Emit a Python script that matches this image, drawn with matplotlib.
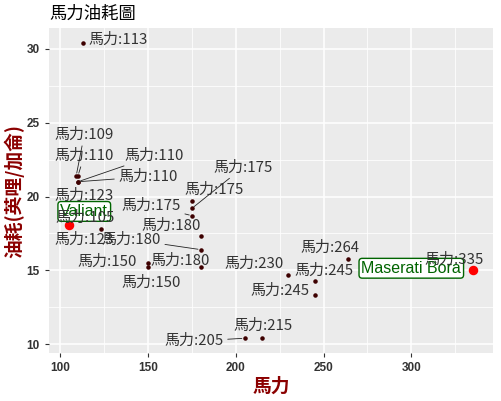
#馬力 vs 油耗 scatter with repelled labels (mtcars, hp > 100)
import numpy as np
import matplotlib.pyplot as plt
from matplotlib.ticker import MultipleLocator

plt.rcParams['font.family'] = ['Noto Sans CJK TC', 'DejaVu Sans']

#data
cars = ['Mazda RX4', 'Mazda RX4 Wag', 'Hornet 4 Drive', 'Hornet Sportabout', 'Valiant',
        'Duster 360', 'Merc 280', 'Merc 280C', 'Merc 450SE', 'Merc 450SL', 'Merc 450SLC',
        'Cadillac Fleetwood', 'Lincoln Continental', 'Chrysler Imperial', 'Dodge Challenger',
        'AMC Javelin', 'Camaro Z28', 'Pontiac Firebird', 'Lotus Europa', 'Ford Pantera L',
        'Ferrari Dino', 'Maserati Bora', 'Volvo 142E']
hp = [110, 110, 110, 175, 105, 245, 123, 123, 180, 180, 180, 205, 215, 230, 150,
      150, 245, 175, 113, 264, 175, 335, 109]
mpg = [21.0, 21.0, 21.4, 18.7, 18.1, 14.3, 19.2, 17.8, 16.4, 17.3, 15.2, 10.4, 10.4, 14.7, 15.5,
       15.2, 13.3, 19.2, 30.4, 15.8, 19.7, 15.0, 21.4]
highlight = ['Valiant', 'Maserati Bora']

#label placement (like ggrepel result) and whether a segment is drawn
lab_x = [153.4, 150.0, 113.6, 151.7, 114.2, 250.0, 113.6, 113.6, 140.3, 163.1, 168.2, 176.1,
         215.3, 210.2, 126.7, 151.7, 225.0, 204.0, 133.0, 253.4, 187.5, 324.4, 113.6]
lab_y = [22.77, 21.35, 22.77, 19.39, 18.58, 15.0, 20.07, 17.09, 17.09, 18.04, 15.68, 10.2,
         11.28, 15.47, 15.61, 14.19, 13.65, 21.96, 30.6, 16.55, 20.47, 15.74, 24.19]
seg = [1, 1, 1, 1, 0, 0, 0, 0, 1, 0, 0, 1, 0, 0, 0, 0, 0, 1, 0, 0, 0, 0, 1]
box_x = [113.6, 300.0]
box_y = [18.99, 15.14]

fig = plt.figure(figsize=(5.01, 4.01), dpi=100)
ax = fig.add_axes([0.0978, 0.1197, 0.886, 0.810])
ax.set_facecolor('#EBEBEB')
for s in ax.spines.values():
    s.set_visible(False)

ax.set_xlim(93.5, 346.5)
ax.set_ylim(9.4, 31.4)
ax.xaxis.set_major_locator(MultipleLocator(50))
ax.xaxis.set_minor_locator(MultipleLocator(25))
ax.yaxis.set_major_locator(MultipleLocator(5))
ax.yaxis.set_minor_locator(MultipleLocator(2.5))
ax.grid(which='major', color='white', lw=1.1)
ax.grid(which='minor', color='white', lw=0.55)
ax.set_axisbelow(True)
ax.tick_params(which='major', length=3, color='#333333', width=0.8)
ax.tick_params(which='minor', length=0)
for t in ax.get_xticklabels() + ax.get_yticklabels():
    t.set_fontfamily('Liberation Sans')
    t.set_fontweight('bold')
    t.set_fontsize(8.5)
    t.set_color('#333333')

ax.scatter(hp, mpg, s=5, color='#3d0000', zorder=3)
hx = [hp[cars.index(c)] for c in highlight]
hy = [mpg[cars.index(c)] for c in highlight]
ax.scatter(hx, hy, s=34, color='red', zorder=4)

#highlight boxes
for c, bx, by in zip(highlight, box_x, box_y):
    ax.text(bx, by, c, ha='center', va='center', fontsize=11.5, color='darkgreen',
            family=['Liberation Sans'], zorder=4,
            bbox=dict(boxstyle='round,pad=0.15,rounding_size=0.2', fc='white',
                      ec='darkgreen', lw=1))

#repel labels
for i in range(len(cars)):
    txt = '馬力:' + str(hp[i])
    if seg[i]:
        ax.annotate(txt, xy=(hp[i], mpg[i]), xytext=(lab_x[i], lab_y[i]),
                    ha='center', va='center', fontsize=10.8, color='#333333', zorder=5,
                    arrowprops=dict(arrowstyle='-', color='#222222', lw=0.6,
                                    shrinkA=1, shrinkB=2))
    else:
        ax.text(lab_x[i], lab_y[i], txt, ha='center', va='center', fontsize=10.8,
                color='#333333', zorder=5)

ax.set_xlabel('馬力', fontsize=13.5, fontweight='bold', color='#8B0000', labelpad=2)
ax.set_ylabel('油耗(英哩/加侖)', fontsize=13.5, fontweight='bold', color='#8B0000', labelpad=2)
fig.text(0.098, 0.965, '馬力油耗圖', fontsize=12.5, va='center', ha='left')

plt.savefig('out.png', dpi=100)
